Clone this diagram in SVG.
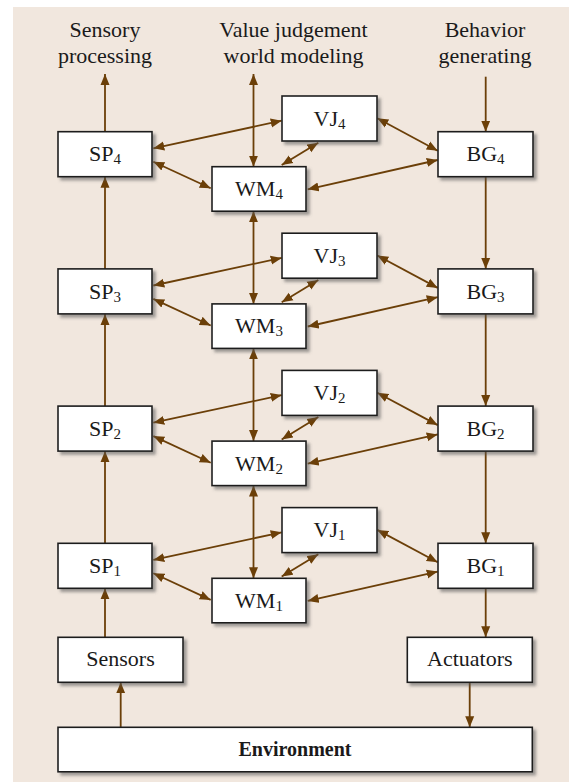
<svg xmlns="http://www.w3.org/2000/svg" width="569" height="782" viewBox="0 0 569 782">
<style>
.bx{fill:#fff;stroke:#1e1e1e;stroke-width:1.6;filter:url(#sh)}
.t{font-family:"Liberation Serif","Times New Roman",serif;font-size:22px;fill:#1a1a1a;text-anchor:middle}
.s{font-size:15px}
.b{font-weight:bold;font-size:20px}
.c line,.c path{stroke:#6b3f08;stroke-width:1.8;fill:none}
.u{marker-end:url(#ah)}
.d{marker-start:url(#ah);marker-end:url(#ah)}
</style>
<defs>
<filter id="sh" x="-10%" y="-20%" width="130%" height="150%">
<feDropShadow dx="3" dy="3" stdDeviation="1.5" flood-color="#555" flood-opacity="0.55"/>
</filter>
<marker id="ah" markerUnits="userSpaceOnUse" markerWidth="12" markerHeight="10" refX="11" refY="4.5" orient="auto-start-reverse" viewBox="0 0 12 9">
<path d="M0,0 L11,4.5 L0,9 z" fill="#6b3f08"/>
</marker>
</defs>
<rect x="13" y="7" width="556" height="775" fill="#f1e7de"/>
<g id="headers">
<text class="t" x="105" y="37.3">Sensory</text>
<text class="t" x="105" y="63.3">processing</text>
<text class="t" x="293.5" y="37.3">Value judgement</text>
<text class="t" x="293.5" y="63.3">world modeling</text>
<text class="t" x="485" y="37.3">Behavior</text>
<text class="t" x="485" y="63.3">generating</text>
</g>
<g id="connectors" class="c">
<!-- level 4 -->
<line class="d" x1="281.7" y1="120.7" x2="153.3" y2="148.3"/>
<line class="d" x1="210.7" y1="188.3" x2="153.3" y2="161.7"/>
<line class="d" x1="281.7" y1="165" x2="318.3" y2="142.7"/>
<line class="d" x1="377.3" y1="118.3" x2="437.7" y2="150.7"/>
<line class="d" x1="307.7" y1="189.3" x2="437.7" y2="160"/>
<!-- level 3 -->
<line class="d" x1="281.7" y1="257.9" x2="153.3" y2="285.5"/>
<line class="d" x1="210.7" y1="325.5" x2="153.3" y2="298.9"/>
<line class="d" x1="281.7" y1="302.2" x2="318.3" y2="279.9"/>
<line class="d" x1="377.3" y1="255.5" x2="437.7" y2="287.9"/>
<line class="d" x1="307.7" y1="326.5" x2="437.7" y2="297.2"/>
<!-- level 2 -->
<line class="d" x1="281.7" y1="395.1" x2="153.3" y2="422.7"/>
<line class="d" x1="210.7" y1="462.7" x2="153.3" y2="436.1"/>
<line class="d" x1="281.7" y1="439.4" x2="318.3" y2="417.1"/>
<line class="d" x1="377.3" y1="392.7" x2="437.7" y2="425.1"/>
<line class="d" x1="307.7" y1="463.7" x2="437.7" y2="434.4"/>
<!-- level 1 -->
<line class="d" x1="281.7" y1="532.3" x2="153.3" y2="559.9"/>
<line class="d" x1="210.7" y1="599.9" x2="153.3" y2="573.3"/>
<line class="d" x1="281.7" y1="576.6" x2="318.3" y2="554.3"/>
<line class="d" x1="377.3" y1="529.9" x2="437.7" y2="562.3"/>
<line class="d" x1="307.7" y1="600.9" x2="437.7" y2="571.6"/>
<!-- SP column -->
<line class="u" x1="105" y1="131.7" x2="105" y2="74"/>
<line class="u" x1="105" y1="268.9" x2="105" y2="176.7"/>
<line class="u" x1="105" y1="406.1" x2="105" y2="313.9"/>
<line class="u" x1="105" y1="543.3" x2="105" y2="451.1"/>
<line class="u" x1="105" y1="637.3" x2="105" y2="588.3"/>
<line class="u" x1="120.7" y1="727.3" x2="120.7" y2="682.3"/>
<!-- WM column -->
<line class="d" x1="253.5" y1="74" x2="253.5" y2="166.7"/>
<line class="d" x1="253.5" y1="211.2" x2="253.5" y2="303.9"/>
<line class="d" x1="253.5" y1="348.4" x2="253.5" y2="441.1"/>
<line class="d" x1="253.5" y1="485.6" x2="253.5" y2="578.3"/>
<!-- BG column -->
<line class="u" x1="485.7" y1="76.7" x2="485.7" y2="131.7"/>
<line class="u" x1="485.7" y1="176.7" x2="485.7" y2="268.9"/>
<line class="u" x1="485.7" y1="313.9" x2="485.7" y2="406.1"/>
<line class="u" x1="485.7" y1="451.1" x2="485.7" y2="543.3"/>
<line class="u" x1="485.7" y1="588.3" x2="485.7" y2="637.3"/>
<line class="u" x1="469.7" y1="682.3" x2="469.7" y2="727.3"/>
</g>
<g id="SP4"><rect class="bx" x="58" y="131.7" width="94" height="45"/><text class="t" x="105" y="161.3">SP<tspan class="s" dy="3">4</tspan></text></g>
<g id="VJ4"><rect class="bx" x="282" y="96" width="95" height="45"/><text class="t" x="329.5" y="125.6">VJ<tspan class="s" dy="3">4</tspan></text></g>
<g id="WM4"><rect class="bx" x="212" y="166.7" width="94" height="44.5"/><text class="t" x="259" y="196.1">WM<tspan class="s" dy="3">4</tspan></text></g>
<g id="BG4"><rect class="bx" x="438" y="131.7" width="95" height="45"/><text class="t" x="485.5" y="161.3">BG<tspan class="s" dy="3">4</tspan></text></g>
<g id="SP3"><rect class="bx" x="58" y="268.9" width="94" height="45"/><text class="t" x="105" y="298.5">SP<tspan class="s" dy="3">3</tspan></text></g>
<g id="VJ3"><rect class="bx" x="282" y="233.2" width="95" height="45"/><text class="t" x="329.5" y="262.8">VJ<tspan class="s" dy="3">3</tspan></text></g>
<g id="WM3"><rect class="bx" x="212" y="303.9" width="94" height="44.5"/><text class="t" x="259" y="333.3">WM<tspan class="s" dy="3">3</tspan></text></g>
<g id="BG3"><rect class="bx" x="438" y="268.9" width="95" height="45"/><text class="t" x="485.5" y="298.5">BG<tspan class="s" dy="3">3</tspan></text></g>
<g id="SP2"><rect class="bx" x="58" y="406.1" width="94" height="45"/><text class="t" x="105" y="435.7">SP<tspan class="s" dy="3">2</tspan></text></g>
<g id="VJ2"><rect class="bx" x="282" y="370.4" width="95" height="45"/><text class="t" x="329.5" y="400">VJ<tspan class="s" dy="3">2</tspan></text></g>
<g id="WM2"><rect class="bx" x="212" y="441.1" width="94" height="44.5"/><text class="t" x="259" y="470.5">WM<tspan class="s" dy="3">2</tspan></text></g>
<g id="BG2"><rect class="bx" x="438" y="406.1" width="95" height="45"/><text class="t" x="485.5" y="435.7">BG<tspan class="s" dy="3">2</tspan></text></g>
<g id="SP1"><rect class="bx" x="58" y="543.3" width="94" height="45"/><text class="t" x="105" y="572.9">SP<tspan class="s" dy="3">1</tspan></text></g>
<g id="VJ1"><rect class="bx" x="282" y="507.6" width="95" height="45"/><text class="t" x="329.5" y="537.2">VJ<tspan class="s" dy="3">1</tspan></text></g>
<g id="WM1"><rect class="bx" x="212" y="578.3" width="94" height="44.5"/><text class="t" x="259" y="607.7">WM<tspan class="s" dy="3">1</tspan></text></g>
<g id="BG1"><rect class="bx" x="438" y="543.3" width="95" height="45"/><text class="t" x="485.5" y="572.9">BG<tspan class="s" dy="3">1</tspan></text></g>
<g id="Sensors"><rect class="bx" x="58" y="637.3" width="125" height="45"/><text class="t" x="120.5" y="666">Sensors</text></g>
<g id="Actuators"><rect class="bx" x="407.3" y="637.3" width="125" height="45"/><text class="t" x="469.8" y="666">Actuators</text></g>
<g id="Environment"><rect class="bx" x="58" y="727.3" width="474.3" height="44.5"/><text class="t b" x="295" y="755.5">Environment</text></g>
</svg>
